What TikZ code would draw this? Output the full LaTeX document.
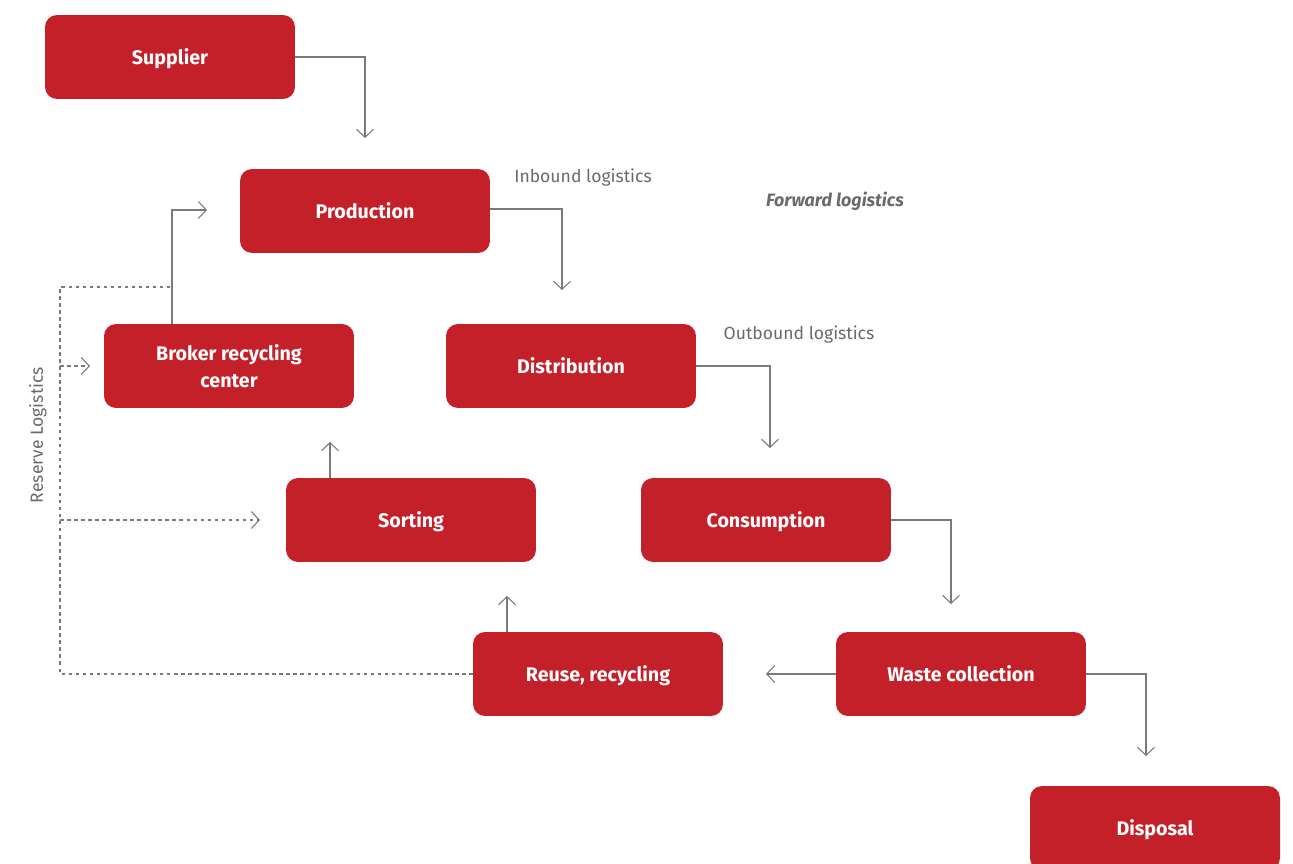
\documentclass[tikz,border=0pt]{standalone}
\usepackage{fontspec}
\setmainfont{Fira Sans}
\usetikzlibrary{arrows.meta}
\definecolor{boxred}{HTML}{C4202A}
\definecolor{linegray}{HTML}{7A7A7A}
\definecolor{labelgray}{HTML}{6A6A6A}
\begin{document}
\begin{tikzpicture}[x=0.02cm,y=-0.02cm,
  stage/.style={fill=boxred,rounded corners=0.24cm,minimum width=5cm,minimum height=1.68cm,
    text=white,font=\fontsize{11.2}{15.3}\selectfont\bfseries,align=center,inner sep=0pt,text depth=0pt},
  flow/.style={draw=linegray,line width=0.6pt,-{Straight Barb[length=1.6mm,width=3.4mm]}},
  back/.style={flow,dashed,dash pattern=on 2pt off 2pt},
  tag/.style={text=labelgray,font=\fontsize{10}{12}\selectfont}]
	\useasboundingbox (0,0) rectangle (1293,864);
	% stages
	\node[stage] (supplier) at (170,57) {Supplier};
	\node[stage] (production) at (365,211) {Production};
	\node[stage] (broker) at (229,366) {Broker recycling\\center};
	\node[stage] (distribution) at (571,366) {Distribution};
	\node[stage] (sorting) at (411,520) {Sorting};
	\node[stage] (consumption) at (766,520) {Consumption};
	\node[stage] (reuse) at (598,674) {Reuse, recycling};
	\node[stage] (waste) at (961,674) {Waste collection};
	\node[stage] (disposal) at (1155,828) {Disposal};
	% labels
	\node[tag] (inbound) at (583,178) {Inbound logistics};
	\node[tag] (outbound) at (799,335) {Outbound logistics};
	\node[tag,font=\fontsize{10.2}{12}\selectfont\bfseries\itshape] (forward) at (835,201) {Forward logistics};
	\node[tag,rotate=90] (reserve) at (38,435) {Reserve Logistics};
	% arrow ends
	\coordinate (s2p) at (365,138);
	\coordinate (p2d) at (562,290);
	\coordinate (d2c) at (770,448);
	\coordinate (c2w) at (951,604);
	\coordinate (w2d) at (1146,756);
	\coordinate (w2r) at (766,674);
	\coordinate (r2s) at (507,596);
	\coordinate (s2b) at (330,442);
	\coordinate (bup) at (172,210);
	\coordinate (b2p) at (207,210);
	\coordinate (rtop) at (60,287);
	\coordinate (r2b) at (90,366);
	\coordinate (r2so) at (260,520);
	% forward
	\draw[flow] (supplier.east) -| (s2p);
	\draw[flow] (production.east |- 0,209) -| (p2d);
	\draw[flow] (distribution.east) -| (d2c);
	\draw[flow] (consumption.east) -| (c2w);
	\draw[flow] (waste.east) -| (w2d);
	\draw[flow] (waste.west) -- (w2r);
	\draw[flow] (r2s |- reuse.north) -- (r2s);
	\draw[flow] (s2b |- sorting.north) -- (s2b);
	\draw[flow] (bup |- broker.north) -- (bup) -- (b2p);
	% reserve
	\draw[draw=linegray,line width=0.6pt,dash pattern=on 2pt off 2pt] (reuse.west) -| (rtop) -- (bup |- rtop);
	\draw[back] (rtop |- broker.west) -- (r2b);
	\draw[back] (rtop |- sorting.west) -- (r2so);
\end{tikzpicture}
\end{document}
